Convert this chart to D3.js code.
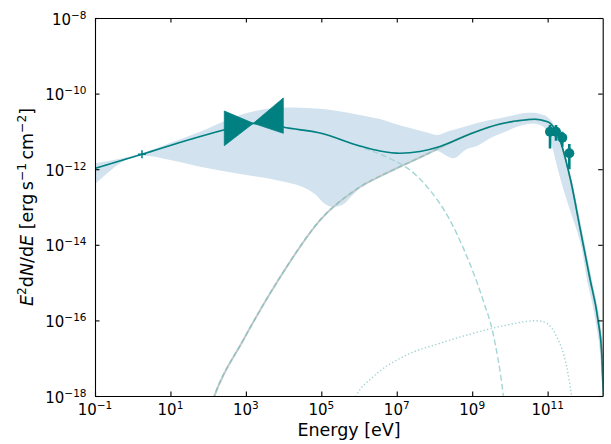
<!DOCTYPE html>
<html>
<head>
<meta charset="utf-8">
<script src="https://cdn.jsdelivr.net/npm/d3@7"></script>
<style>
  html, body { margin: 0; padding: 0; background: #fff; }
  svg { display: block; font-family: "DejaVu Sans", sans-serif; }
</style>
</head>
<body>
<svg id="chart" width="611" height="444"></svg>
<script>
// Broadband SED. All values are log10: energy in eV, E^2 dN/dE in erg s^-1 cm^-2.

// total model
const modelLogE = [-1.000, 0.246, 1.784, 2.579, 3.189, 3.639, 3.984, 4.965, 6.025, 6.556, 7.086, 7.616, 8.146, 8.942, 9.737, 10.267, 10.665, 10.930, 11.089, 11.222, 11.354, 11.487, 11.620, 11.858, 12.123, 12.335, 12.433, 12.468, 12.520];
const modelLogF = [-11.976, -11.606, -11.135, -10.923, -10.791, -10.799, -10.884, -11.042, -11.386, -11.519, -11.579, -11.532, -11.399, -11.069, -10.804, -10.712, -10.680, -10.725, -10.804, -10.989, -11.307, -11.783, -12.339, -13.556, -14.905, -15.989, -16.862, -17.709, -18.630];

// model confidence band
const bandLogE = [-1.000, 0.246, 0.988, 1.784, 2.844, 3.984, 4.435, 4.833, 5.098, 5.310, 5.549, 5.813, 6.158, 6.556, 6.900, 7.351, 7.802, 8.067, 8.332, 8.491, 8.862, 9.127, 9.472, 9.923, 10.188, 10.347, 10.612, 10.798, 10.983, 11.142, 11.275, 11.407, 11.540, 11.646, 11.778, 11.911, 12.043, 12.176, 12.283, 12.389, 12.468, 12.547];
const bandUpper = [-11.844, -11.579, -11.307, -11.008, -10.566, -10.368, -10.375, -10.394, -10.415, -10.440, -10.480, -10.525, -10.590, -10.672, -10.786, -10.910, -11.029, -11.095, -11.008, -10.963, -10.857, -10.778, -10.698, -10.611, -10.553, -10.521, -10.508, -10.540, -10.611, -10.778, -11.069, -11.439, -12.021, -12.312, -12.947, -13.608, -14.270, -14.931, -15.460, -15.989, -16.836, -17.841];
const bandLower = [-12.399, -11.638, -11.757, -11.934, -12.127, -12.325, -12.444, -12.660, -12.920, -13.000, -12.950, -12.700, -12.365, -12.153, -12.021, -11.783, -11.624, -11.519, -11.651, -11.712, -11.466, -11.386, -11.183, -10.989, -10.876, -10.831, -10.791, -10.831, -10.989, -11.492, -12.021, -12.497, -12.921, -13.238, -13.635, -14.138, -14.931, -15.513, -16.095, -16.862, -18.106, -19.429];

// synchrotron component
const syncLogE = [-1.000, 0.246, 1.784, 2.579, 3.189, 3.639, 3.984, 4.965, 6.025, 6.900, 7.351, 7.802, 8.359, 8.809, 9.287, 9.552, 9.817, 9.896];
const syncLogF = [-11.976, -11.606, -11.135, -10.923, -10.791, -10.799, -10.884, -11.042, -11.405, -11.757, -12.021, -12.463, -13.257, -14.190, -15.460, -16.341, -17.929, -18.635];

// inverse Compton component
const icLogE = [1.996, 2.155, 2.932, 3.860, 5.010, 6.025, 6.900, 7.802, 8.146, 8.942, 9.737, 10.267, 10.665, 10.930, 11.089, 11.222, 11.354, 11.487, 11.620, 11.858, 12.123, 12.335, 12.433, 12.468, 12.520];
const icLogF = [-18.503, -18.026, -16.519, -14.931, -13.299, -12.471, -12.021, -11.598, -11.426, -11.069, -10.804, -10.712, -10.680, -10.725, -10.804, -10.989, -11.307, -11.783, -12.339, -13.556, -14.905, -15.989, -16.862, -17.709, -18.630];

// secondary (dotted) component
const dotLogE = [5.760, 5.938, 6.378, 7.264, 8.146, 9.029, 9.915, 10.710, 10.975, 11.240, 11.505, 11.638, 11.699];
const dotLogF = [-18.370, -17.974, -17.489, -16.915, -16.606, -16.341, -16.122, -16.008, -16.077, -16.431, -17.225, -18.019, -18.503];

// X-ray power-law butterfly
const bowLogE = [2.428, 3.197, 3.992];
const bowUpper = [-10.460, -10.786, -10.116];
const bowLower = [-11.378, -10.786, -11.050];

// optical point
const optLogE = [0.246];
const optLogF = [-11.606];
const optErrE = [0.106];
const optErrF = [0.106];

// gamma-ray flux points
const gamLogE = [11.063, 11.222, 11.389, 11.575];
const gamLogF = [-11.008, -11.008, -11.167, -11.580];
const gamLogHi = [-10.831, -10.831, -11.008, -11.333];
const gamLogLo = [-11.452, -11.246, -11.405, -12.000];

// axis ticks (log10)
const xTickExp = [-1, 1, 3, 5, 7, 9, 11];
const yTickExp = [-18, -16, -14, -12, -10, -8];

const TEAL = "#008080";
const BAND = "#d2e3ef";

const svg = d3.select("#chart");
const L = 95, R = 602.7, T = 18, B = 396;
const x = d3.scaleLog().domain([1e-1, Math.pow(10, 12.46)]).range([L, R]);
const y = d3.scaleLog().domain([1e-18, 1e-8]).range([B, T]);
const p = v => Math.pow(10, v);

svg.append("defs").append("clipPath").attr("id", "plotclip")
  .append("rect").attr("x", L).attr("y", T).attr("width", R - L).attr("height", B - T);
const plot = svg.append("g").attr("clip-path", "url(#plotclip)");

const zip2 = (a, b) => a.map((v, i) => ({ e: v, f: b[i] }));
const zip3 = (a, hi, lo) => a.map((v, i) => ({ e: v, hi: hi[i], lo: lo[i] }));

const line = d3.line().x(d => x(p(d.e))).y(d => y(p(d.f))).curve(d3.curveMonotoneX);
const area = d3.area().x(d => x(p(d.e))).y0(d => y(p(d.lo))).y1(d => y(p(d.hi))).curve(d3.curveMonotoneX);

// confidence band
plot.append("path").datum(zip3(bandLogE, bandUpper, bandLower))
  .attr("d", area).attr("fill", BAND).attr("stroke", "none");

// inverse Compton: grey line with light dashes on top
plot.append("path").datum(zip2(icLogE, icLogF)).attr("d", line)
  .attr("fill", "none").attr("stroke", "#c4c8c8").attr("stroke-width", 2);
plot.append("path").datum(zip2(icLogE, icLogF)).attr("d", line)
  .attr("fill", "none").attr("stroke", "#8fc2c2").attr("stroke-width", 1.4)
  .attr("stroke-dasharray", "5,3");

// synchrotron (dashed)
plot.append("path").datum(zip2(syncLogE, syncLogF)).attr("d", line)
  .attr("fill", "none").attr("stroke", "#a5d5d5").attr("stroke-width", 1.4)
  .attr("stroke-dasharray", "6,3");

// dotted component
plot.append("path").datum(zip2(dotLogE, dotLogF)).attr("d", line)
  .attr("fill", "none").attr("stroke", "#9fd2d2").attr("stroke-width", 1.4)
  .attr("stroke-dasharray", "1.3,2.3");

// total model
plot.append("path").datum(zip2(modelLogE, modelLogF)).attr("d", line)
  .attr("fill", "none").attr("stroke", TEAL).attr("stroke-width", 1.6);

// X-ray butterfly
plot.append("path").datum(zip3(bowLogE, bowUpper, bowLower))
  .attr("d", d3.area().x(d => x(p(d.e))).y0(d => y(p(d.lo))).y1(d => y(p(d.hi))))
  .attr("fill", TEAL).attr("stroke", TEAL).attr("stroke-width", 0.8);

// optical point with error cross
optLogE.forEach((e, i) => {
  const g = plot.append("g").attr("stroke", TEAL).attr("stroke-width", 1.5);
  g.append("line").attr("x1", x(p(e - optErrE[i]))).attr("x2", x(p(e + optErrE[i])))
    .attr("y1", y(p(optLogF[i]))).attr("y2", y(p(optLogF[i])));
  g.append("line").attr("x1", x(p(e))).attr("x2", x(p(e)))
    .attr("y1", y(p(optLogF[i] - optErrF[i]))).attr("y2", y(p(optLogF[i] + optErrF[i])));
});

// gamma-ray points
gamLogE.forEach((e, i) => {
  plot.append("line").attr("x1", x(p(e))).attr("x2", x(p(e)))
    .attr("y1", y(p(gamLogHi[i]))).attr("y2", y(p(gamLogLo[i])))
    .attr("stroke", TEAL).attr("stroke-width", 2.6);
});
gamLogE.forEach((e, i) => {
  plot.append("circle").attr("cx", x(p(e))).attr("cy", y(p(gamLogF[i]))).attr("r", 5)
    .attr("fill", TEAL);
});

// axes: inward ticks on all four sides
function styleAxis(g) {
  g.selectAll("path.domain").attr("stroke", "#000").attr("stroke-width", 1.1);
  g.selectAll(".tick line").attr("stroke", "#000").attr("stroke-width", 1.1);
  g.selectAll(".tick text").remove();
}
const tickX = xTickExp.map(p), tickY = yTickExp.map(p);
svg.append("g").attr("transform", `translate(0,${B})`)
  .call(d3.axisBottom(x).tickValues(tickX).tickSizeInner(-4.5).tickSizeOuter(0)).call(styleAxis);
svg.append("g").attr("transform", `translate(0,${T})`)
  .call(d3.axisTop(x).tickValues(tickX).tickSizeInner(-4.5).tickSizeOuter(0)).call(styleAxis);
svg.append("g").attr("transform", `translate(${L},0)`)
  .call(d3.axisLeft(y).tickValues(tickY).tickSizeInner(-4.5).tickSizeOuter(0)).call(styleAxis);
svg.append("g").attr("transform", `translate(${R},0)`)
  .call(d3.axisRight(y).tickValues(tickY).tickSizeInner(-4.5).tickSizeOuter(0)).call(styleAxis);

// power-of-ten tick labels
function powLabel(sel, exp) {
  sel.append("tspan").text("10");
  sel.append("tspan").attr("font-size", 10.5).attr("dy", -6)
    .text((exp < 0 ? "\u2212" : "") + Math.abs(exp));
}
xTickExp.forEach(k => {
  const t = svg.append("text").attr("x", x(p(k))).attr("y", 415)
    .attr("text-anchor", "middle").attr("font-size", 15).attr("fill", "#000");
  powLabel(t, k);
});
yTickExp.forEach(k => {
  const t = svg.append("text").attr("x", 86.5).attr("y", y(p(k)) + 6.5)
    .attr("text-anchor", "end").attr("font-size", 15).attr("fill", "#000");
  powLabel(t, k);
});

// axis titles
svg.append("text").attr("x", 349).attr("y", 436).attr("text-anchor", "middle")
  .attr("font-size", 17.5).attr("fill", "#000").text("Energy [eV]");

const yl = svg.append("text").attr("transform", "translate(32.5,207) rotate(-90)")
  .attr("text-anchor", "middle").attr("font-size", 17.5).attr("fill", "#000");
const parts = [
  { t: "E", it: true }, { t: "2", sup: true }, { t: "d", back: true }, { t: "N", it: true },
  { t: "/d" }, { t: "E", it: true }, { t: " [erg\u2009s" }, { t: "\u22121", sup: true },
  { t: "\u2009cm", back: true }, { t: "\u22122", sup: true }, { t: "]", back: true }
];
parts.forEach(s => {
  const ts = yl.append("tspan").text(s.t);
  if (s.it) ts.attr("font-style", "italic");
  if (s.sup) ts.attr("font-size", 12.25).attr("dy", -7);
  if (s.back) ts.attr("dy", 7);
});
</script>
</body>
</html>
